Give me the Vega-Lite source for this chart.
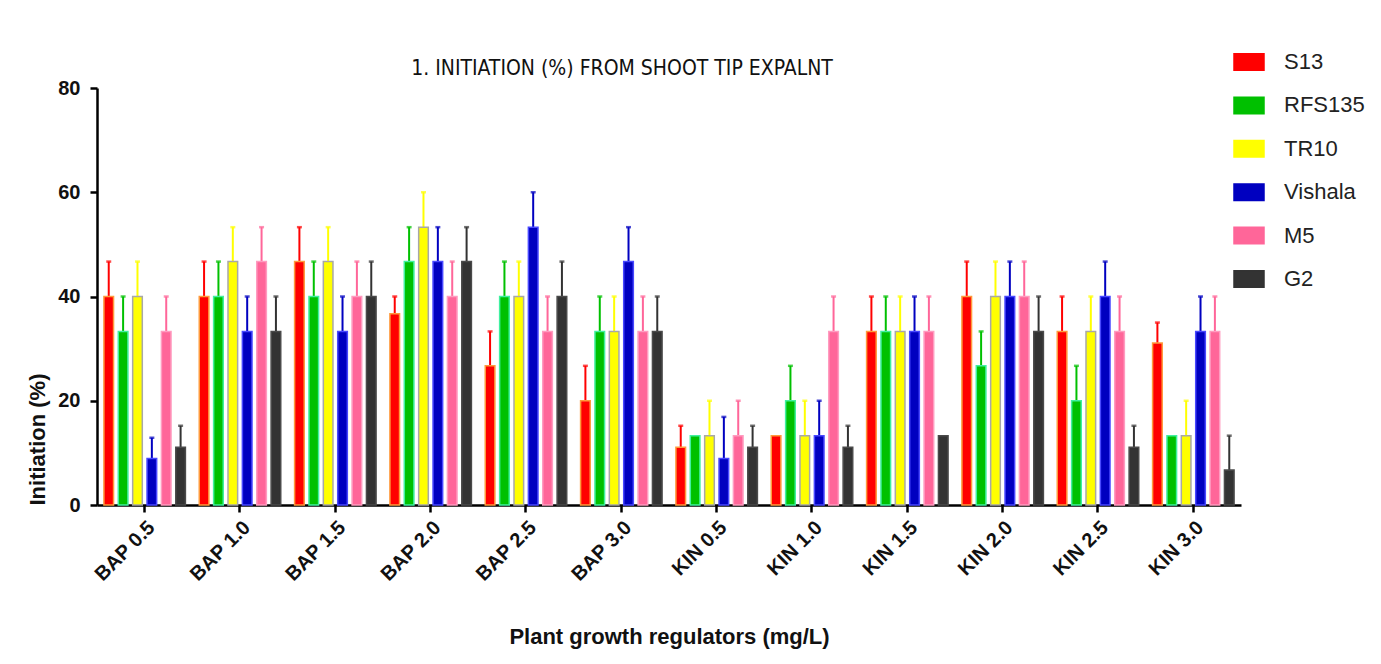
{
  "$schema": "https://vega.github.io/schema/vega-lite/v6.json",
  "autosize": {"type": "none"},
  "width": 1144,
  "height": 417,
  "padding": {"left": 97, "top": 88, "right": 140, "bottom": 159},
  "background": "white",
  "title": {
    "text": "1. INITIATION  (%) FROM SHOOT TIP EXPALNT",
    "font": "Liberation Sans Narrow, DejaVu Sans Condensed, sans-serif",
    "fontSize": 21,
    "fontWeight": "normal",
    "color": "#111111",
    "anchor": "middle",
    "dx": -47,
    "offset": -33
  },
  "data": {
    "values": [
      {"g": "BAP 0.5", "c": "S13", "v": 40, "hi": 46.7},
      {"g": "BAP 0.5", "c": "RFS135", "v": 33.3, "hi": 40},
      {"g": "BAP 0.5", "c": "TR10", "v": 40, "hi": 46.7},
      {"g": "BAP 0.5", "c": "Vishala", "v": 8.9, "hi": 12.9},
      {"g": "BAP 0.5", "c": "M5", "v": 33.3, "hi": 40},
      {"g": "BAP 0.5", "c": "G2", "v": 11.1, "hi": 15.2},
      {"g": "BAP 1.0", "c": "S13", "v": 40, "hi": 46.7},
      {"g": "BAP 1.0", "c": "RFS135", "v": 40, "hi": 46.7},
      {"g": "BAP 1.0", "c": "TR10", "v": 46.7, "hi": 53.3},
      {"g": "BAP 1.0", "c": "Vishala", "v": 33.3, "hi": 40},
      {"g": "BAP 1.0", "c": "M5", "v": 46.7, "hi": 53.3},
      {"g": "BAP 1.0", "c": "G2", "v": 33.3, "hi": 40},
      {"g": "BAP 1.5", "c": "S13", "v": 46.7, "hi": 53.3},
      {"g": "BAP 1.5", "c": "RFS135", "v": 40, "hi": 46.7},
      {"g": "BAP 1.5", "c": "TR10", "v": 46.7, "hi": 53.3},
      {"g": "BAP 1.5", "c": "Vishala", "v": 33.3, "hi": 40},
      {"g": "BAP 1.5", "c": "M5", "v": 40, "hi": 46.7},
      {"g": "BAP 1.5", "c": "G2", "v": 40, "hi": 46.7},
      {"g": "BAP 2.0", "c": "S13", "v": 36.7, "hi": 40},
      {"g": "BAP 2.0", "c": "RFS135", "v": 46.7, "hi": 53.3},
      {"g": "BAP 2.0", "c": "TR10", "v": 53.3, "hi": 60},
      {"g": "BAP 2.0", "c": "Vishala", "v": 46.7, "hi": 53.3},
      {"g": "BAP 2.0", "c": "M5", "v": 40, "hi": 46.7},
      {"g": "BAP 2.0", "c": "G2", "v": 46.7, "hi": 53.3},
      {"g": "BAP 2.5", "c": "S13", "v": 26.7, "hi": 33.3},
      {"g": "BAP 2.5", "c": "RFS135", "v": 40, "hi": 46.7},
      {"g": "BAP 2.5", "c": "TR10", "v": 40, "hi": 46.7},
      {"g": "BAP 2.5", "c": "Vishala", "v": 53.3, "hi": 60},
      {"g": "BAP 2.5", "c": "M5", "v": 33.3, "hi": 40},
      {"g": "BAP 2.5", "c": "G2", "v": 40, "hi": 46.7},
      {"g": "BAP 3.0", "c": "S13", "v": 20, "hi": 26.7},
      {"g": "BAP 3.0", "c": "RFS135", "v": 33.3, "hi": 40},
      {"g": "BAP 3.0", "c": "TR10", "v": 33.3, "hi": 40},
      {"g": "BAP 3.0", "c": "Vishala", "v": 46.7, "hi": 53.3},
      {"g": "BAP 3.0", "c": "M5", "v": 33.3, "hi": 40},
      {"g": "BAP 3.0", "c": "G2", "v": 33.3, "hi": 40},
      {"g": "KIN 0.5", "c": "S13", "v": 11.1, "hi": 15.2},
      {"g": "KIN 0.5", "c": "RFS135", "v": 13.3, "hi": 13.3},
      {"g": "KIN 0.5", "c": "TR10", "v": 13.3, "hi": 20},
      {"g": "KIN 0.5", "c": "Vishala", "v": 8.9, "hi": 16.9},
      {"g": "KIN 0.5", "c": "M5", "v": 13.3, "hi": 20},
      {"g": "KIN 0.5", "c": "G2", "v": 11.1, "hi": 15.2},
      {"g": "KIN 1.0", "c": "S13", "v": 13.3, "hi": 13.3},
      {"g": "KIN 1.0", "c": "RFS135", "v": 20, "hi": 26.7},
      {"g": "KIN 1.0", "c": "TR10", "v": 13.3, "hi": 20},
      {"g": "KIN 1.0", "c": "Vishala", "v": 13.3, "hi": 20},
      {"g": "KIN 1.0", "c": "M5", "v": 33.3, "hi": 40},
      {"g": "KIN 1.0", "c": "G2", "v": 11.1, "hi": 15.2},
      {"g": "KIN 1.5", "c": "S13", "v": 33.3, "hi": 40},
      {"g": "KIN 1.5", "c": "RFS135", "v": 33.3, "hi": 40},
      {"g": "KIN 1.5", "c": "TR10", "v": 33.3, "hi": 40},
      {"g": "KIN 1.5", "c": "Vishala", "v": 33.3, "hi": 40},
      {"g": "KIN 1.5", "c": "M5", "v": 33.3, "hi": 40},
      {"g": "KIN 1.5", "c": "G2", "v": 13.3, "hi": 13.3},
      {"g": "KIN 2.0", "c": "S13", "v": 40, "hi": 46.7},
      {"g": "KIN 2.0", "c": "RFS135", "v": 26.7, "hi": 33.3},
      {"g": "KIN 2.0", "c": "TR10", "v": 40, "hi": 46.7},
      {"g": "KIN 2.0", "c": "Vishala", "v": 40, "hi": 46.7},
      {"g": "KIN 2.0", "c": "M5", "v": 40, "hi": 46.7},
      {"g": "KIN 2.0", "c": "G2", "v": 33.3, "hi": 40},
      {"g": "KIN 2.5", "c": "S13", "v": 33.3, "hi": 40},
      {"g": "KIN 2.5", "c": "RFS135", "v": 20, "hi": 26.7},
      {"g": "KIN 2.5", "c": "TR10", "v": 33.3, "hi": 40},
      {"g": "KIN 2.5", "c": "Vishala", "v": 40, "hi": 46.7},
      {"g": "KIN 2.5", "c": "M5", "v": 33.3, "hi": 40},
      {"g": "KIN 2.5", "c": "G2", "v": 11.1, "hi": 15.2},
      {"g": "KIN 3.0", "c": "S13", "v": 31.1, "hi": 35},
      {"g": "KIN 3.0", "c": "RFS135", "v": 13.3, "hi": 13.3},
      {"g": "KIN 3.0", "c": "TR10", "v": 13.3, "hi": 20},
      {"g": "KIN 3.0", "c": "Vishala", "v": 33.3, "hi": 40},
      {"g": "KIN 3.0", "c": "M5", "v": 33.3, "hi": 40},
      {"g": "KIN 3.0", "c": "G2", "v": 6.7, "hi": 13.3}
    ]
  },
  "encoding": {
    "x": {
      "field": "g", "type": "nominal", "sort": null,
      "scale": {"paddingInner": 0.1, "paddingOuter": 0.05},
      "axis": {
        "title": "Plant growth regulators (mg/L)",
        "labelAngle": -45,
        "labelFont": "Liberation Sans, Arial, sans-serif",
        "labelFontSize": 20,
        "labelFontWeight": "bold",
        "labelColor": "#111111",
        "labelPadding": 5,
        "tickSize": 7,
        "tickWidth": 2.5,
        "tickColor": "#000000",
        "domainColor": "#000000",
        "domainWidth": 2.5,
        "titleFont": "Liberation Sans, Arial, sans-serif",
        "titleFontSize": 22,
        "titleFontWeight": "bold",
        "titleColor": "#111111",
        "titlePadding": 42
      }
    },
    "xOffset": {
      "field": "c", "type": "nominal",
      "scale": {"domain": ["S13", "RFS135", "TR10", "Vishala", "M5", "G2"], "paddingInner": 0.33, "paddingOuter": 0.15}
    },
    "color": {
      "field": "c", "type": "nominal",
      "scale": {"domain": ["S13", "RFS135", "TR10", "Vishala", "M5", "G2"], "range": ["#ff0000", "#00c000", "#ffff00", "#0000c0", "#ff6699", "#333333"]},
      "legend": {
        "title": null,
        "orient": "none",
        "legendX": 1136,
        "legendY": -42,
        "padding": 0,
        "symbolType": "M-1,-0.55H1V0.55H-1Z",
        "symbolSize": 900,
        "symbolStrokeWidth": 1.5,
        "symbolOpacity": 1,
        "labelFont": "Liberation Sans, Arial, sans-serif",
        "labelFontSize": 22,
        "labelColor": "#222222",
        "labelOffset": 19,
        "rowPadding": 15.4,
        "labelLimit": 200
      }
    }
  },
  "layer": [
    {
      "transform": [{"filter": "datum.hi > datum.v"}],
      "mark": {"type": "rule", "strokeWidth": 2},
      "encoding": {
        "y": {"field": "v", "type": "quantitative"},
        "y2": {"field": "hi"}
      }
    },
    {
      "mark": {"type": "bar", "strokeWidth": 1.5},
      "encoding": {
        "y": {
          "field": "v", "type": "quantitative",
          "scale": {"domain": [0, 80], "nice": false},
          "axis": {
            "title": "Initiation (%)",
            "values": [0, 20, 40, 60, 80],
            "grid": false,
            "labelFont": "Liberation Sans, Arial, sans-serif",
            "labelFontSize": 20,
            "labelFontWeight": "bold",
            "labelColor": "#111111",
            "labelPadding": 10,
            "tickSize": 7,
            "tickWidth": 2.5,
            "tickColor": "#000000",
            "domainColor": "#000000",
            "domainWidth": 2.5,
            "titleFont": "Liberation Sans, Arial, sans-serif",
            "titleFontSize": 22,
            "titleFontWeight": "bold",
            "titleColor": "#111111",
            "titleAnchor": "start",
            "titlePadding": 8
          }
        },
        "stroke": {
          "field": "c", "type": "nominal",
          "scale": {"domain": ["S13", "RFS135", "TR10", "Vishala", "M5", "G2"], "range": ["#ff9a3c", "#40f0a0", "#a8a8a8", "#4848ff", "#ff9cc0", "#4a4a4a"]},
          "legend": {
            "title": null,
            "orient": "none",
            "legendX": 1136,
            "legendY": -42,
            "padding": 0,
            "symbolType": "M-1,-0.55H1V0.55H-1Z",
            "symbolSize": 900,
            "symbolStrokeWidth": 1.5,
            "labelFont": "Liberation Sans, Arial, sans-serif",
            "labelFontSize": 22,
            "labelColor": "#222222",
            "labelOffset": 19,
            "rowPadding": 15.4,
            "labelLimit": 200
          }
        }
      }
    },
    {
      "transform": [{"filter": "datum.hi > datum.v"}],
      "mark": {"type": "tick", "thickness": 2.5, "size": 5, "orient": "horizontal"},
      "encoding": {
        "y": {"field": "hi", "type": "quantitative"}
      }
    }
  ],
  "config": {
    "view": {"stroke": null}
  }
}
